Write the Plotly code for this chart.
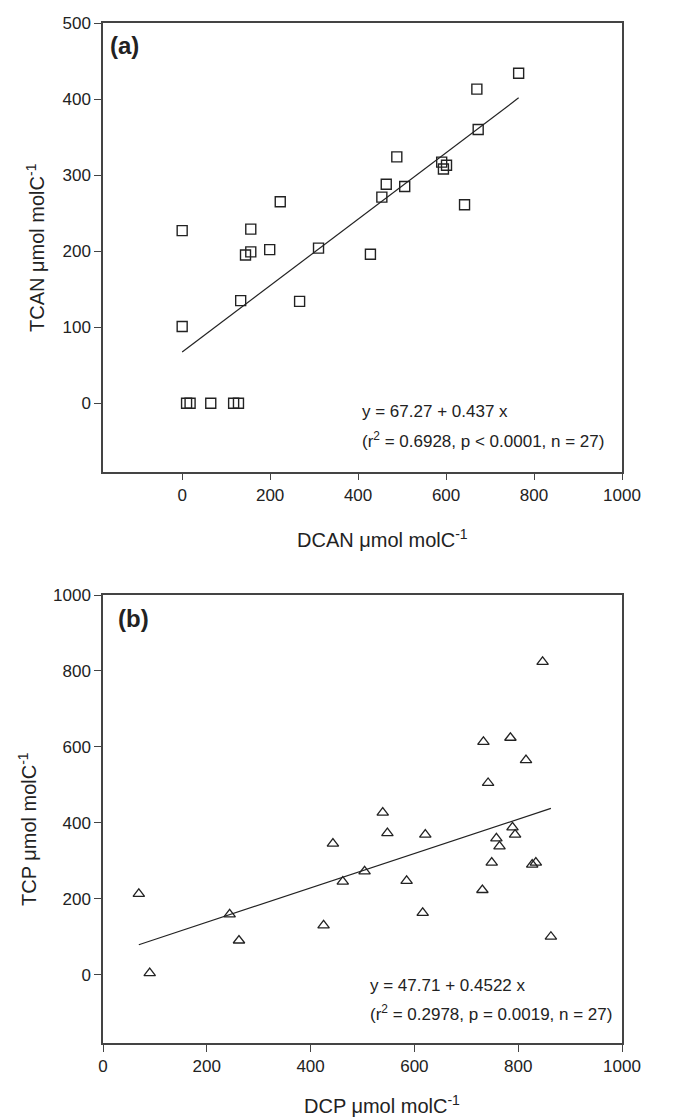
import plotly.graph_objects as go

# Panel (a): DCAN vs TCAN
dcan = [0, 0, 10, 18, 65, 117, 128, 133, 144, 156, 156, 199, 223, 267, 310, 428,
        454, 464, 488, 506, 590, 594, 601, 642, 670, 673, 765]
tcan = [227, 101, 0, 0, 0, 0, 0, 135, 195, 229, 199, 202, 265, 134, 204, 196,
        271, 288, 324, 285, 317, 308, 313, 261, 413, 360, 434]
fit_a = (67.27, 0.437)
eq_a = ["y = 67.27 + 0.437 x", "(r<sup>2</sup> = 0.6928, p < 0.0001, n = 27)"]

# Panel (b): DCP vs TCP
dcp = [69, 90, 244, 262, 425, 443, 462, 504, 539, 548, 585, 616, 621, 731, 733,
       742, 749, 758, 764, 785, 789, 794, 815, 827, 834, 847, 863]
tcp = [213, 4, 159, 90, 130, 345, 245, 272, 427, 373, 247, 163, 369, 223, 613,
       505, 295, 359, 338, 624, 388, 369, 565, 290, 295, 824, 100]
fit_b = (47.71, 0.4522)
eq_b = ["y = 47.71 + 0.4522 x", "(r<sup>2</sup> = 0.2978, p = 0.0019, n = 27)"]

x_ticks_a = [0, 200, 400, 600, 800, 1000]
y_ticks_a = [0, 100, 200, 300, 400, 500]
x_ticks_b = [0, 200, 400, 600, 800, 1000]
y_ticks_b = [0, 200, 400, 600, 800, 1000]

FONT = "Liberation Sans, Arial, sans-serif"
TXT = "#222222"
AX = "#444444"

fig = go.Figure()

fig.add_trace(go.Scatter(x=dcan, y=tcan, mode="markers", xaxis="x", yaxis="y",
                         marker=dict(symbol="square-open", size=10, color="#222222",
                                     line=dict(width=1.4, color="#222222")),
                         showlegend=False))
xa = [min(dcan), max(dcan)]
fig.add_trace(go.Scatter(x=xa, y=[fit_a[0] + fit_a[1] * v for v in xa], mode="lines",
                         xaxis="x", yaxis="y", line=dict(color="#222222", width=1.2),
                         showlegend=False))

fig.add_trace(go.Scatter(x=dcp, y=tcp, mode="markers", xaxis="x2", yaxis="y2",
                         marker=dict(symbol="triangle-up-open", size=10, color="#222222",
                                     line=dict(width=1.3, color="#222222")),
                         showlegend=False))
xb = [min(dcp), max(dcp)]
fig.add_trace(go.Scatter(x=xb, y=[fit_b[0] + fit_b[1] * v for v in xb], mode="lines",
                         xaxis="x2", yaxis="y2", line=dict(color="#222222", width=1.2),
                         showlegend=False))

axis_common = dict(showline=True, linecolor=AX, linewidth=1.5, mirror=True,
                   ticks="outside", ticklen=7, tickcolor=AX, tickwidth=1.3,
                   showgrid=False, zeroline=False,
                   tickfont=dict(family=FONT, size=17, color=TXT))

fig.update_layout(
    width=681, height=1118,
    margin=dict(l=103, r=59, t=23, b=75),
    paper_bgcolor="white", plot_bgcolor="white",
    xaxis=dict(axis_common, domain=[0, 1], range=[-180, 1000], tickvals=x_ticks_a,
               anchor="y"),
    yaxis=dict(axis_common, domain=[0.5601, 1], range=[-90, 500], tickvals=y_ticks_a,
               anchor="x"),
    xaxis2=dict(axis_common, domain=[0, 1], range=[0, 1000], tickvals=x_ticks_b,
                anchor="y2"),
    yaxis2=dict(axis_common, domain=[0, 0.4392], range=[-180, 1000], tickvals=y_ticks_b,
                anchor="x2"),
)

def ann(text, x, y, size, xanchor="left", angle=0, bold=False):
    fig.add_annotation(text=f"<b>{text}</b>" if bold else text,
                       xref="paper", yref="paper",
                       x=(x - 103) / 519, y=(1043 - y) / 1020,
                       xanchor=xanchor, yanchor="middle", showarrow=False,
                       textangle=angle,
                       font=dict(family=FONT, size=size, color=TXT))

ann("(a)", 108, 45, 24, bold=True)
ann("(b)", 116, 619, 24, bold=True)
ann(eq_a[0], 360, 411, 17)
ann(eq_a[1], 360, 440, 17)
ann(eq_b[0], 368, 985, 17)
ann(eq_b[1], 368, 1013, 17)
ann("DCAN μmol molC<sup>-1</sup>", 382, 538, 20, xanchor="center")
ann("DCP μmol molC<sup>-1</sup>", 382, 1104, 20, xanchor="center")
ann("TCAN μmol molC<sup>-1</sup>", 35, 248, 20, xanchor="center", angle=-90)
ann("TCP μmol molC<sup>-1</sup>", 27, 829, 20, xanchor="center", angle=-90)

fig.write_html("out.html", config={"displayModeBar": False},
               post_script="document.body.style.margin='0';document.body.style.overflow='hidden';")
